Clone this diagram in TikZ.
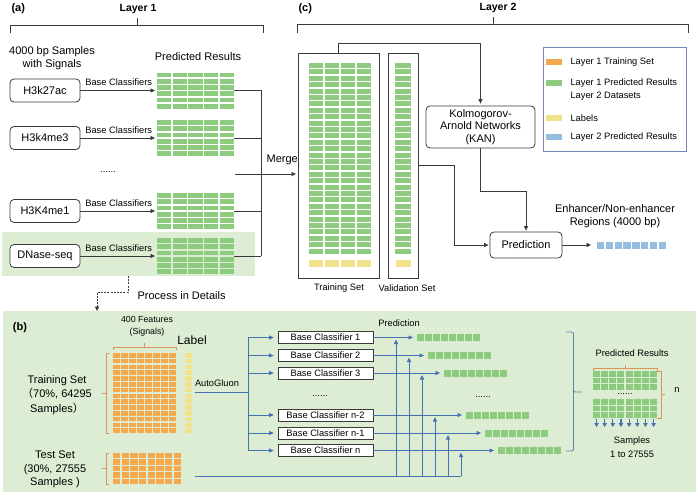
\documentclass[tikz,border=0pt]{standalone}
\usepackage{fontspec}
\setmainfont{Liberation Sans}
\newfontfamily\cjk{Noto Sans CJK SC}
\usetikzlibrary{arrows.meta,decorations.pathreplacing}
\definecolor{cgreen}{HTML}{8DCB7E}
\definecolor{corange}{HTML}{F5A94E}
\definecolor{cyellow}{HTML}{F0E38C}
\definecolor{cblue}{HTML}{95BDE0}
\definecolor{bggreen}{HTML}{DDEDD3}
\definecolor{lineblue}{HTML}{4472B4}
\definecolor{dgray}{HTML}{3A3A3A}
\definecolor{braceor}{HTML}{D9955A}
\definecolor{legbord}{HTML}{7289B5}
\definecolor{bracebl}{HTML}{5F86B0}
\newcommand{\cgrid}[9]{%
  \node[inner sep=0,outer sep=0,minimum width={#4*#6+(#4-1)*#8},minimum height={#5*#7+(#5-1)*#8},anchor=north west] (#1) at (#2,#3) {};
  \foreach \ci in {1,...,#4}{\foreach \cj in {1,...,#5}{%
    \fill[#9] ({#2+(\ci-1)*(#6+#8)},{#3+(\cj-1)*(#7+#8)}) rectangle ++(#6,#7);}}}
\tikzset{
  big/.style={font=\fontsize{11}{13}\selectfont},
  small/.style={font=\fontsize{9.3}{11}\selectfont},
  boldlab/.style={font=\bfseries\fontsize{11}{13}\selectfont},
  rbox/.style={draw=dgray, rounded corners=4pt, line width=0.8pt, inner sep=0, fill=white},
  conn/.style={draw=dgray, line width=0.8pt},
  arr/.style={conn, shorten >=1pt, -{Triangle[length=4.5pt,width=4pt]}},
  bconn/.style={draw=lineblue, line width=0.8pt},
  barr/.style={bconn, -{Triangle[length=4.5pt,width=4pt]}},
  clbox/.style={draw=dgray, line width=0.7pt, fill=white, minimum width=95pt, minimum height=12pt, inner sep=0, small},
  brk/.style={draw=braceor, line width=0.8pt},
  swatch/.style={inner sep=0, minimum width=16pt, minimum height=6pt},
  panel/.style={inner sep=0, outer sep=0, anchor=north west}
}
\begin{document}
\begin{tikzpicture}[x=1pt,y=-1pt]
\useasboundingbox (0,0) rectangle (698,495);
% ---------- backgrounds
\node[panel, fill=bggreen, minimum width=693pt, minimum height=181pt] (pb) at (3,311) {};
\node[panel, fill=bggreen, minimum width=253pt, minimum height=44pt] (hl) at (2,232) {};
% ---------- (a)
\node[boldlab, anchor=west] (la) at (8,9) {(a)};
\node[font=\bfseries\fontsize{10.5}{13}\selectfont] (l1) at (138,9) {Layer 1};
\draw[conn] (10,33) -- (10,25) -- (263,25) -- (263,33);
\draw[conn] (137,25) -- (137,18);
\node[big, align=center] (samp) at (52,58.5) {4000 bp Samples\\with Signals};
\node[big] (pr) at (198,57) {Predicted Results};
\node[rbox, big, minimum width=70pt, minimum height=23pt] (b1) at (45,90.5) {H3k27ac};
\node[rbox, big, minimum width=70pt, minimum height=23pt] (b2) at (45,138) {H3k4me3};
\node[rbox, big, minimum width=70pt, minimum height=23pt] (b3) at (45,211) {H3K4me1};
\node[rbox, big, minimum width=70pt, minimum height=23pt] (b4) at (45,256) {DNase-seq};
\cgrid{g1}{157}{72.5}{5}{6}{14.2}{4.75}{1.5}{cgreen}
\cgrid{g2}{157}{120}{5}{6}{14.2}{4.75}{1.5}{cgreen}
\cgrid{g3}{157}{193}{5}{6}{14.2}{4.75}{1.5}{cgreen}
\cgrid{g4}{157}{238}{5}{6}{14.2}{4.75}{1.5}{cgreen}
\foreach \b/\g in {b1/g1,b2/g2,b3/g3,b4/g4}{
  \draw[arr, shorten >=2pt] (\b.east) -- (\b.east -| \g.west) node[midway, above=1pt, small] {Base Classifiers};
}
\node[small] (d1) at (108,172) {......};
\coordinate (bustop) at (261,90);
\coordinate (busbot) at (261,256);
\foreach \g in {g1,g2,g3,g4}{ \draw[conn] (\g.east) -- (\g.east -| bustop); }
\draw[conn] (bustop) -- (busbot);
% ---------- (c)
\node[boldlab, anchor=west] (lc) at (295,9) {(c)};
\node[font=\bfseries\fontsize{10.5}{13}\selectfont] (l2) at (498,8) {Layer 2};
\draw[conn] (297,33) -- (297,24) -- (688,24) -- (688,33);
\draw[conn] (493,24) -- (493,17);
\node[panel, draw=dgray, line width=0.8pt, fill=white, minimum width=81pt, minimum height=225pt] (train) at (298,53) {};
\node[panel, draw=dgray, line width=0.8pt, fill=white, minimum width=30pt, minimum height=225pt] (val) at (388,53) {};
\cgrid{tg}{309}{63}{4}{30}{14.4}{4.9}{1.5}{cgreen}
\cgrid{ty}{309}{260}{4}{1}{14.4}{7}{1.5}{cyellow}
\cgrid{vg}{395}{63}{1}{30}{16}{4.9}{1.5}{cgreen}
\cgrid{vy}{395.5}{260}{1}{1}{15}{7}{1.5}{cyellow}
\node[small] (trl) at (339,288) {Training Set};
\node[small] (vl) at (407,288) {Validation Set};
\coordinate (mstart) at (235,174);
\draw[arr, shorten >=2pt] (mstart) -- (mstart -| train.west) node[pos=0.75, above=5pt, big] (merge) {Merge};
\node[rbox, big, align=center, minimum width=109pt, minimum height=42pt, font=\fontsize{11}{12.5}\selectfont] (kan) at (480.5,127) {Kolmogorov-\\Arnold Networks\\(KAN)};
\node[rbox, big, minimum width=72pt, minimum height=26pt] (pred) at (526,245) {Prediction};
\coordinate (ktop) at (0,43);
\coordinate (kmid) at (0,191);
\draw[arr, shorten >=2pt] (train.north) -- (train.north |- ktop) -| (kan.north);
\draw[arr] (kan.south) -- (kan.south |- kmid) -| (pred.north);
\draw[arr] (val.east) -- ++(36,0) |- (pred.west);
\cgrid{outc}{597}{242}{8}{1}{7.3}{7}{1.5}{cblue}
\draw[arr, shorten >=6pt] (pred.east) -- (pred.east -| outc.west);
\node[big, align=center] (enh) at (615,216.5) {Enhancer/Non-enhancer\\Regions (4000 bp)};
% legend
\node[panel, draw=legbord, line width=0.8pt, minimum width=143pt, minimum height=104pt] (leg) at (543,47) {};
\node[swatch, fill=corange] (s1) at (554,62) {};
\node[swatch, fill=cgreen] (s2) at (554,82.5) {};
\node[swatch, fill=cyellow] (s3) at (554,118) {};
\node[swatch, fill=cblue] (s4) at (554,137) {};
\node[small, anchor=west] (t1) at (567,62) {Layer 1 Training Set};
\node[small, anchor=west, align=left, font=\fontsize{9.3}{13}\selectfont] (t2) at (567,89.5) {Layer 1 Predicted Results\\Layer 2 Datasets};
\node[small, anchor=west] (t3) at (567,118) {Labels};
\node[small, anchor=west] (t4) at (567,137) {Layer 2 Predicted Results};
% ---------- link to (b)
\coordinate (pbin) at (97,311);
\draw[conn, dashed, dash pattern=on 2pt off 1.2pt, -{Triangle[length=4.5pt,width=4pt]}] (hl.south) -- ++(0,16) -| (pbin);
\node[big, anchor=west] (pid) at (134,296) {Process in Details};
% ---------- (b)
\node[boldlab] (lb) at (20,328) {(b)};
\node[small, align=center, font=\fontsize{8.8}{12}\selectfont] (feat) at (147,326) {400 Features\\(Signals)};
\node[font=\fontsize{12}{14}\selectfont] (lab) at (192,340) {Label};
\draw[brk] (113,350) -- (113,347) -- (176,347) -- (176,350);
\draw[brk] (144.5,347) -- (144.5,343);
\cgrid{otg}{113}{353}{8}{14}{6.8}{4.6}{1.2}{corange}
\cgrid{lbg}{185}{353}{1}{14}{7}{4.6}{1.2}{cyellow}
\draw[brk] (109,353) -- (106,353) -- (106,433) -- (109,433);
\draw[brk] (106,393) -- (102,393);
\node[big, align=center, font=\fontsize{11}{14.5}\selectfont] (trs) at (57,395) {Training Set\\{\cjk （}70\%, 64295\\Samples{\cjk ）}};
\node[big, align=center, font=\fontsize{11}{13.5}\selectfont] (tss) at (55,469.5) {Test Set\\(30\%, 27555\\Samples )};
\cgrid{otest}{113}{453}{8}{5}{7.45}{5.24}{1.2}{corange}
\draw[brk] (109,453) -- (106,453) -- (106,484) -- (109,484);
\draw[brk] (106,468.5) -- (102,468.5);
\node[small] (ag) at (217,383) {AutoGluon};
\node[clbox] (cb1) at (325.5,337.5) {Base Classifier 1};
\node[clbox] (cb2) at (325.5,355.5) {Base Classifier 2};
\node[clbox] (cb3) at (325.5,373) {Base Classifier 3};
\node[clbox] (cb4) at (325.5,415) {Base Classifier n-2};
\node[clbox] (cb5) at (325.5,433) {Base Classifier n-1};
\node[clbox] (cb6) at (325.5,450.5) {Base Classifier n};
\node[small] (d2) at (320,396) {......};
\node[small] (predl) at (399,323) {Prediction};
\coordinate (agstart) at (195,392);
\coordinate (bus1) at (248,337.5);
\coordinate (bus6) at (248,450.5);
\draw[bconn] (agstart) -- (agstart -| bus1);
\draw[bconn] (bus1) -- (bus6);
\foreach \k in {1,...,6}{ \draw[barr, shorten >=4pt] (cb\k.west -| bus1) -- (cb\k.west); }
% output rows
\cgrid{or1}{417}{334}{8}{1}{6.5}{7}{1.5}{cgreen}
\cgrid{or2}{428}{352}{8}{1}{6.5}{7}{1.5}{cgreen}
\cgrid{or3}{444}{369.5}{8}{1}{6.5}{7}{1.5}{cgreen}
\cgrid{or4}{466}{411.5}{8}{1}{6.5}{7}{1.5}{cgreen}
\cgrid{or5}{485}{429.5}{8}{1}{6.5}{7}{1.5}{cgreen}
\cgrid{or6}{498}{447}{8}{1}{6.5}{7}{1.5}{cgreen}
\foreach \k in {1,...,6}{ \draw[barr, shorten >=4pt] (cb\k.east) -- (cb\k.east -| or\k.west); }
\node[small] (d3) at (483,397) {......};
% test bus
\coordinate (tstart) at (195,476);
\coordinate (tend) at (461,476);
\draw[bconn] (tstart) -- (tend);
\foreach \xx/\k in {396/1,409/2,422/3,435/4,448/5,461/6}{
  \coordinate (tu\k) at (\xx,476);
  \draw[barr, shorten >=2pt] (tu\k) -- (tu\k |- cb\k.east);
}
% big bracket
\draw[draw=bracebl, line width=0.9pt, rounded corners=2pt] (566,332) -- (573.5,332) -- (573.5,451) -- (566,451);
\draw[draw=bracebl, line width=0.9pt, rounded corners=1.5pt] (573.5,389) -- (573.5,392) -- (582,392);
% right predicted results
\node[small] (prr) at (632,353) {Predicted Results};
\draw[brk] (593,371) -- (593,368) -- (657,368) -- (657,371);
\draw[brk] (625,368) -- (625,365);
\cgrid{pr1}{593}{371}{8}{3}{6.95}{5.5}{1.2}{cgreen}
\cgrid{pr2}{593}{399}{8}{3}{6.95}{5.5}{1.2}{cgreen}
\node[small] (d4) at (625,394) {......};
\draw[brk] (657,371) -- (661,371) -- (661,418) -- (657,418);
\draw[brk] (661,394.5) -- (665,394.5);
\node[small] (nn) at (677,390) {n};
\foreach \i in {0,...,7}{
  \draw[bconn, line width=1.1pt, -{Triangle[length=4pt,width=4.5pt]}] ({596.5+\i*8.15},419) -- ({596.5+\i*8.15},427);
}
\node[small, align=center, font=\fontsize{9.3}{13.5}\selectfont] (samp2) at (632,447) {Samples\\1 to 27555};
\end{tikzpicture}
\end{document}
